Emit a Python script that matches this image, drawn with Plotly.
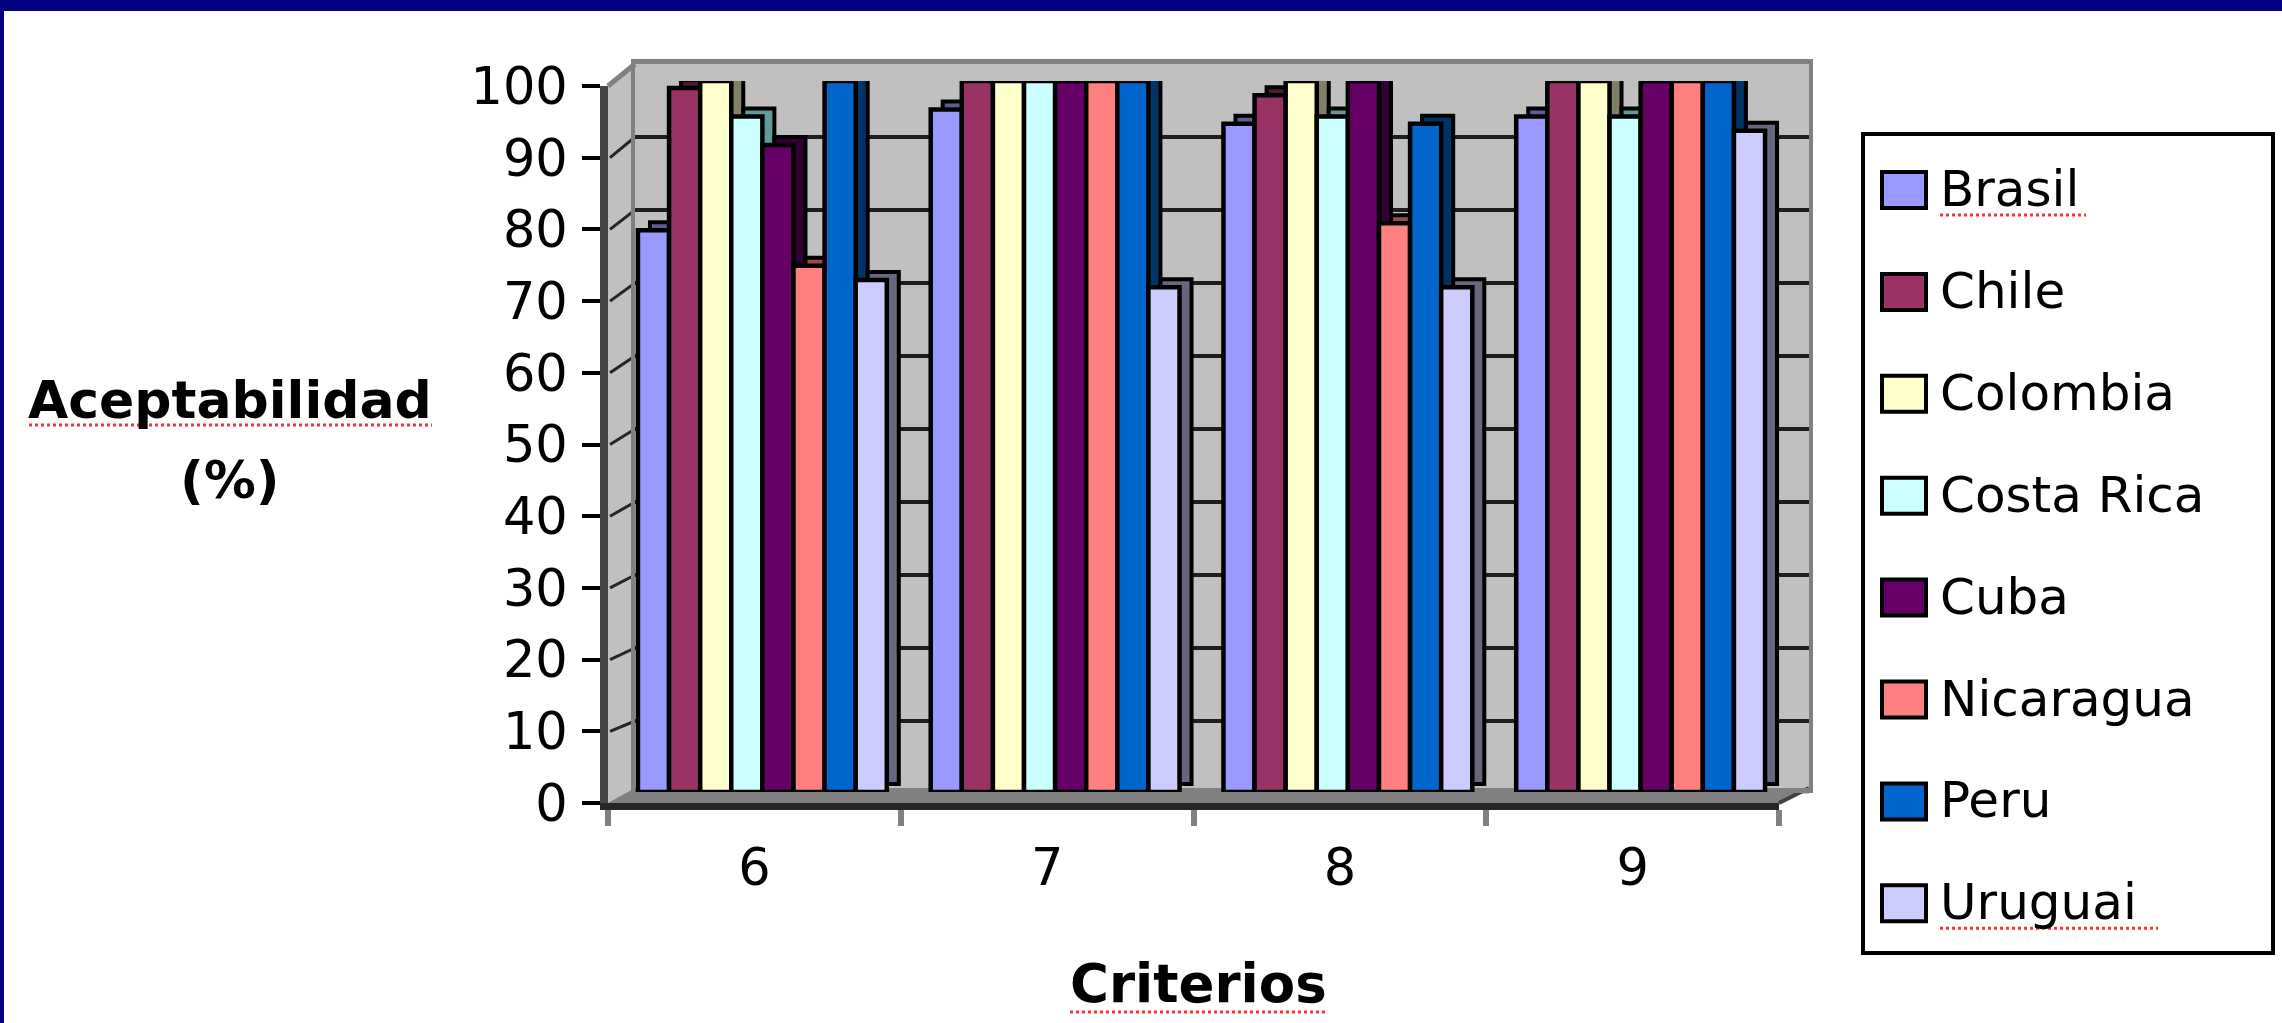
import plotly.graph_objects as go

# ---------------- data ----------------
categories = ["6", "7", "8", "9"]
countries = ["Brasil", "Chile", "Colombia", "Costa Rica", "Cuba", "Nicaragua", "Peru", "Uruguai"]
brasil = [79, 96, 94, 95]
chile = [99, 100, 98, 100]
colombia = [100, 100, 100, 100]
costa_rica = [95, 100, 95, 95]
cuba = [91, 100, 100, 100]
nicaragua = [74, 100, 80, 100]
peru = [100, 100, 94, 100]
uruguai = [72, 71, 71, 93]
y_ticks = [0, 10, 20, 30, 40, 50, 60, 70, 80, 90, 100]
grid_ticks = [10, 20, 30, 40, 50, 60, 70, 80, 90]

series = [brasil, chile, colombia, costa_rica, cuba, nicaragua, peru, uruguai]
colors = ["#9999FF", "#993366", "#FFFFCC", "#CCFFFF", "#660066", "#FF8080", "#0066CC", "#CCCCFF"]
side_colors = ["#5C5C99", "#4D1A33", "#80806A", "#669999", "#330033", "#994D4D", "#003366", "#66667F"]

# ---------------- geometry helpers (pixels -> paper) ----------------
W, H = 2282, 1023
def px(x):
    return x / W
def py(y):
    return 1 - y / H

FONT = "DejaVu Sans"

# bar subplot geometry
BX0, BX1 = 616, 1787          # x domain of bar plane (px)
BY0, BY1 = 792, 81            # y of value 0 and value 100 (px)
BARGAP = 0.15
n_ser = len(countries)
bar_w = (1 - BARGAP) / n_ser              # width of one bar, category units
cat_px = (BX1 - BX0) / len(categories)    # pixels per category
depth_dx = 12 / cat_px                    # depth shift, category units
depth_dy = 8 / ((BY0 - BY1) / 100)        # depth shift, value units

fig = go.Figure()

# helper trace so the back-wall subplot (grid) is drawn first
fig.add_trace(go.Scatter(x=[None], y=[None], xaxis="x", yaxis="y",
                         showlegend=False, hoverinfo="skip", mode="markers"))

# 3-D depth faces (drawn behind the front faces)
for i, (name, vals, sc) in enumerate(zip(countries, series, side_colors)):
    fig.add_trace(go.Bar(
        name=name, x=categories, y=vals, base=depth_dy, xaxis="x2", yaxis="y2",
        offset=-(1 - BARGAP) / 2 + i * bar_w + depth_dx, width=bar_w,
        marker=dict(color=sc, line=dict(color="#000000", width=4)),
        showlegend=False, hoverinfo="skip",
    ))

# front faces
for name, vals, col in zip(countries, series, colors):
    fig.add_trace(go.Bar(
        name=name, x=categories, y=vals, xaxis="x2", yaxis="y2",
        marker=dict(color=col, line=dict(color="#000000", width=4.5)),
        showlegend=False,
    ))

# helper trace so the front category axis has its categories
fig.add_trace(go.Scatter(x=categories, y=[None] * len(categories), xaxis="x3", yaxis="y3",
                         showlegend=False, hoverinfo="skip", mode="markers"))

# back wall: 100 at y=64, 0 at y=794 ; bottom cut at 788
b0 = (794 - 788) / 7.30
fig.update_layout(
    width=W, height=H, autosize=False,
    margin=dict(l=0, r=0, t=0, b=0, autoexpand=False),
    paper_bgcolor="#FFFFFF", plot_bgcolor="rgba(0,0,0,0)",
    font=dict(family=FONT, color="#000000"),
    barmode="group", bargap=BARGAP, bargroupgap=0,
    showlegend=False,
    xaxis=dict(domain=[px(635), px(1809)], range=[0, 1], showticklabels=False, showgrid=False,
               zeroline=False, showline=True, mirror=True, linecolor="#808080", linewidth=5,
               ticks="", anchor="y", fixedrange=True, automargin=False),
    yaxis=dict(domain=[py(788), py(64)], range=[b0, 100], tickmode="array", tickvals=grid_ticks,
               showticklabels=False, showgrid=True, gridcolor="#1E1E1E", gridwidth=4,
               zeroline=False, showline=True, mirror=True, linecolor="#808080", linewidth=4,
               ticks="", anchor="x", fixedrange=True, automargin=False),
    xaxis2=dict(domain=[px(BX0), px(BX1)], type="category", categoryorder="array",
                categoryarray=categories, range=[-0.5, len(categories) - 0.5],
                showticklabels=False, showgrid=False, zeroline=False, showline=False,
                ticks="", anchor="y2", fixedrange=True, automargin=False),
    yaxis2=dict(domain=[py(BY0), py(BY1)], range=[0, 100], visible=False, anchor="x2",
                fixedrange=True, automargin=False),
    xaxis3=dict(domain=[px(608), px(1779)], type="category", categoryorder="array",
                categoryarray=categories, range=[-0.5, len(categories) - 0.5],
                tickson="boundaries", ticks="outside", ticklen=16, tickwidth=6, tickcolor="#808080",
                showline=True, linecolor="#262626", linewidth=7, showgrid=False, zeroline=False,
                tickfont=dict(family=FONT, size=51, color="#000000"), ticklabelstandoff=14,
                anchor="y3", fixedrange=True, automargin=False),
    yaxis3=dict(domain=[py(803), py(86)], range=[0, 100], tickmode="array", tickvals=y_ticks,
                ticks="outside", ticklen=18, tickwidth=4, tickcolor="#000000",
                showline=True, linecolor="#454545", linewidth=8, showgrid=False, zeroline=False,
                tickfont=dict(family=FONT, size=51, color="#000000"), ticklabelstandoff=4,
                anchor="x3", fixedrange=True, automargin=False),
)

shapes = []
# navy frame
shapes.append(dict(type="rect", xref="paper", yref="paper", x0=0, x1=1, y0=py(11), y1=1,
                   fillcolor="#000080", line=dict(width=0), layer="above"))
shapes.append(dict(type="rect", xref="paper", yref="paper", x0=0, x1=px(4), y0=0, y1=1,
                   fillcolor="#000080", line=dict(width=0), layer="above"))
# back wall fill
shapes.append(dict(type="rect", xref="paper", yref="paper", x0=px(635), x1=px(1809), y0=py(794), y1=py(64),
                   fillcolor="#C0C0C0", line=dict(width=0), layer="below"))
# side wall
shapes.append(dict(type="path", xref="paper", yref="paper",
                   path=f"M{px(608)},{py(803)} L{px(608)},{py(86)} L{px(635)},{py(64)} L{px(635)},{py(794)} Z",
                   fillcolor="#C0C0C0", line=dict(width=0), layer="below"))
# slanted gridlines on the side wall
for v in grid_ticks:
    yf = 803 - v / 100 * (803 - 86)
    yb = 794 - v / 100 * (794 - 64)
    shapes.append(dict(type="line", xref="paper", yref="paper", x0=px(610), y0=py(yf), x1=px(635), y1=py(yb),
                       line=dict(color="#262626", width=3), layer="below"))
shapes.append(dict(type="line", xref="paper", yref="paper", x0=px(608), y0=py(86), x1=px(635), y1=py(64),
                   line=dict(color="#808080", width=5), layer="below"))
# floor
shapes.append(dict(type="path", xref="paper", yref="paper",
                   path=f"M{px(608)},{py(803)} L{px(1779)},{py(803)} L{px(1809)},{py(788)} L{px(635)},{py(788)} Z",
                   fillcolor="#808080", line=dict(width=0), layer="below"))
shapes.append(dict(type="line", xref="paper", yref="paper", x0=px(1779), y0=py(803), x1=px(1809), y1=py(788),
                   line=dict(color="#404040", width=4), layer="below"))

# legend box
lx0, lx1, ly0, ly1 = 1863, 2273, 134, 953
shapes.append(dict(type="rect", xref="paper", yref="paper", x0=px(lx0), x1=px(lx1), y0=py(ly1), y1=py(ly0),
                   fillcolor="#FFFFFF", line=dict(color="#000000", width=4), layer="above"))
annotations = []
first_y, step = 189, 101.9
for i, (name, col) in enumerate(zip(countries, colors)):
    yc = first_y + i * step
    shapes.append(dict(type="rect", xref="paper", yref="paper", x0=px(1882), x1=px(1926),
                       y0=py(yc + 19), y1=py(yc - 17), fillcolor=col,
                       line=dict(color="#000000", width=4), layer="above"))
    annotations.append(dict(xref="paper", yref="paper", x=px(1938), y=py(yc), text=name,
                            showarrow=False, xanchor="left", yanchor="middle",
                            font=dict(family=FONT, size=50, color="#000000")))
    if name in ("Brasil", "Uruguai"):
        wtxt = 146 if name == "Brasil" else 218
        shapes.append(dict(type="line", xref="paper", yref="paper", x0=px(1940), x1=px(1940 + wtxt),
                           y0=py(yc + 26), y1=py(yc + 26),
                           line=dict(color="#FF3030", width=3, dash="dot"), layer="above"))

# axis titles
annotations.append(dict(xref="paper", yref="paper", x=px(230), y=py(400), text="<b>Aceptabilidad</b>",
                        showarrow=False, xanchor="center", yanchor="middle",
                        font=dict(family=FONT, size=52, color="#000000")))
annotations.append(dict(xref="paper", yref="paper", x=px(230), y=py(480), text="<b>(%)</b>",
                        showarrow=False, xanchor="center", yanchor="middle",
                        font=dict(family=FONT, size=52, color="#000000")))
annotations.append(dict(xref="paper", yref="paper", x=px(1198), y=py(983), text="<b>Criterios</b>",
                        showarrow=False, xanchor="center", yanchor="middle",
                        font=dict(family=FONT, size=53, color="#000000")))
shapes.append(dict(type="line", xref="paper", yref="paper", x0=px(29), x1=px(432), y0=py(425), y1=py(425),
                   line=dict(color="#FF3030", width=3, dash="dot"), layer="above"))
shapes.append(dict(type="line", xref="paper", yref="paper", x0=px(1070), x1=px(1327), y0=py(1012), y1=py(1012),
                   line=dict(color="#FF3030", width=3, dash="dot"), layer="above"))

fig.update_layout(shapes=shapes, annotations=annotations)

fig.write_html("out.html", config={"displayModeBar": False},
               post_script="document.body.style.margin='0';document.body.style.overflow='hidden';")
